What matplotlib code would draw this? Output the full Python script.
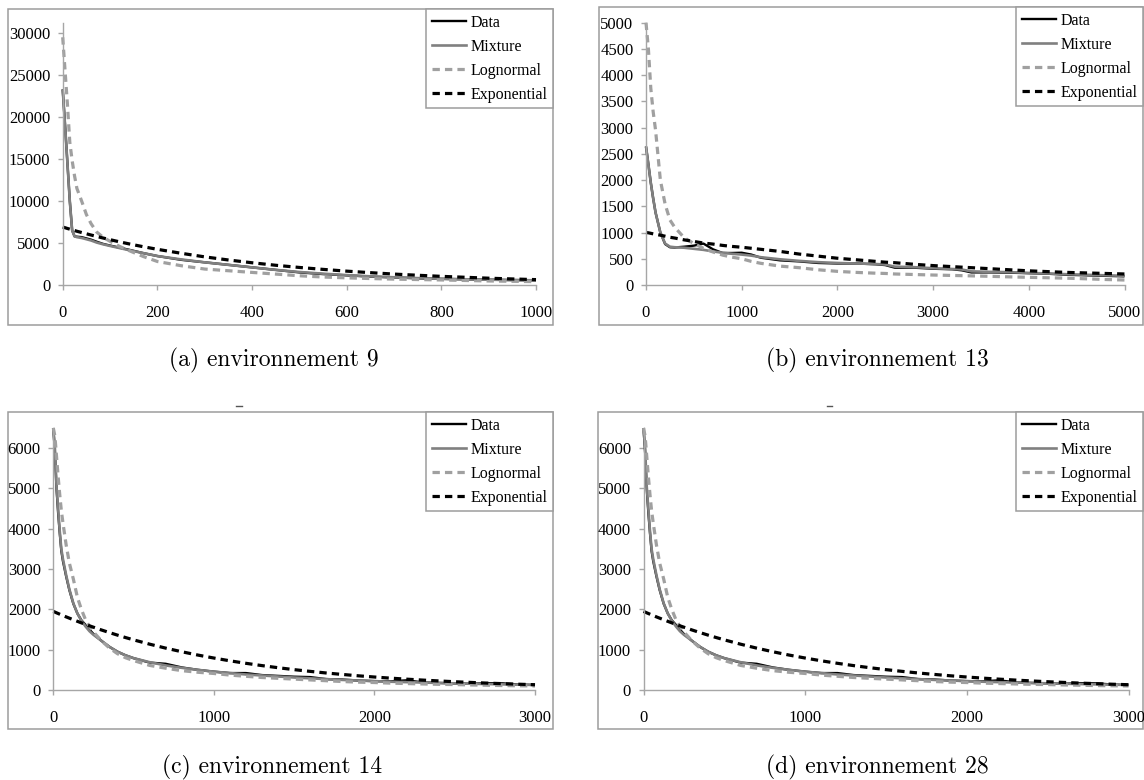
import matplotlib
matplotlib.use("Agg")
import matplotlib.pyplot as plt
from matplotlib.lines import Line2D
from matplotlib.patches import Rectangle

# ---------------------------------------------------------------- data
labels = ["Data", "Mixture", "Lognormal", "Exponential"]

# environnement 9
env9_x = [0, 5, 10, 15, 20, 25, 30, 40, 50, 60, 72, 85, 100, 120, 140, 170, 200,
          250, 300, 350, 400, 450, 500, 550, 600, 650, 700, 750, 800, 850, 900,
          950, 1000]
env9_data = [23300, 19000, 14500, 10000, 6500, 5800, 5750, 5700, 5550, 5400, 5150,
             4900, 4700, 4450, 4200, 3800, 3450, 3000, 2700, 2400, 2100, 1800, 1500,
             1300, 1150, 1000, 900, 800, 730, 680, 630, 590, 560]
env9_mix = [23300, 19000, 14500, 10000, 6500, 5800, 5700, 5600, 5450, 5300, 5050,
            4850, 4650, 4400, 4150, 3800, 3450, 3050, 2700, 2400, 2100, 1800, 1550,
            1350, 1180, 1030, 920, 820, 740, 680, 630, 590, 560]
env9_logn = [29500, 25500, 21500, 17000, 14800, 13000, 11500, 10000, 8400, 7300, 6300,
             5700, 5200, 4600, 4100, 3400, 2800, 2300, 1900, 1700, 1500, 1300, 1100,
             950, 850, 770, 700, 650, 600, 540, 480, 440, 400]
env9_expo = [6900, 6820, 6730, 6650, 6570, 6490, 6400, 6250, 6100, 5950, 5780, 5600,
             5400, 5140, 4900, 4560, 4250, 3780, 3350, 2980, 2650, 2350, 2090, 1860,
             1650, 1470, 1300, 1160, 1030, 920, 810, 720, 640]

# environnement 13
env13_x = [0, 25, 50, 75, 100, 150, 200, 250, 300, 400, 500, 600, 700, 800, 900, 1000,
           1100, 1200, 1400, 1600, 1800, 2000, 2200, 2400, 2500, 2600, 2800, 3000,
           3200, 3300, 3400, 3600, 3800, 4000, 4200, 4400, 4600, 4800, 5000]
env13_data = [2640, 2300, 1950, 1650, 1380, 1000, 780, 720, 715, 730, 750, 790, 680,
              610, 610, 615, 580, 520, 470, 450, 420, 410, 410, 395, 380, 330, 330,
              310, 300, 280, 240, 240, 235, 225, 215, 195, 185, 175, 165]
env13_mix = [2640, 2300, 1950, 1650, 1380, 1000, 790, 730, 720, 710, 690, 670, 640,
             615, 595, 580, 560, 530, 490, 460, 435, 420, 410, 400, 390, 350, 340,
             320, 305, 295, 260, 250, 245, 230, 220, 205, 195, 185, 175]
env13_logn = [5000, 4500, 3750, 3300, 2950, 2000, 1540, 1240, 1100, 900, 790, 700, 630,
              570, 530, 500, 450, 413, 360, 330, 290, 260, 240, 225, 220, 210, 200,
              190, 182, 178, 174, 165, 155, 146, 138, 130, 118, 105, 95]
env13_expo = [1000, 995, 985, 975, 965, 950, 930, 910, 895, 860, 830, 800, 780, 755,
              735, 720, 700, 680, 640, 590, 550, 510, 480, 450, 435, 425, 395, 370,
              350, 340, 330, 310, 290, 270, 255, 240, 230, 220, 210]

# environnement 14 (environnement 28 gives the same curves)
env14_x = [0, 10, 20, 30, 40, 50, 60, 80, 100, 125, 150, 175, 200, 225, 250, 300, 350,
           400, 450, 500, 600, 700, 800, 900, 1000, 1100, 1200, 1300, 1400, 1500,
           1600, 1700, 1800, 1900, 2000, 2100, 2200, 2300, 2400, 2500, 2600, 2700,
           2800, 2900, 3000]
env14_data = [6500, 5900, 5000, 4400, 3900, 3450, 3200, 2820, 2480, 2140, 1900, 1730,
              1620, 1500, 1390, 1220, 1070, 950, 860, 790, 680, 650, 560, 500, 455,
              420, 420, 370, 350, 330, 320, 270, 260, 235, 220, 215, 240, 190, 175,
              165, 155, 170, 165, 135, 125]
env14_mix = [6500, 6000, 5050, 4500, 3950, 3500, 3250, 2850, 2500, 2150, 1900, 1720,
             1580, 1460, 1370, 1220, 1070, 950, 860, 790, 690, 610, 550, 500, 455, 420,
             385, 360, 335, 310, 290, 270, 250, 235, 220, 205, 195, 185, 175, 165, 155,
             148, 140, 132, 125]
env14_logn = [6500, 6300, 5800, 5300, 4850, 4450, 4150, 3600, 3150, 2750, 2300, 2000,
              1750, 1580, 1440, 1220, 1040, 900, 800, 730, 610, 540, 480, 440, 410, 370,
              340, 310, 290, 270, 250, 230, 210, 195, 185, 170, 160, 150, 140, 135, 125,
              118, 110, 105, 100]
env14_expo = [1950, 1933, 1915, 1898, 1881, 1864, 1847, 1814, 1782, 1743, 1704, 1666,
              1629, 1593, 1558, 1489, 1424, 1361, 1301, 1244, 1137, 1039, 949, 867, 793,
              724, 662, 605, 553, 505, 462, 422, 386, 352, 322, 294, 269, 246, 225, 205,
              188, 171, 157, 143, 131]

env28_x = list(env14_x)
env28_data = list(env14_data)
env28_mix = list(env14_mix)
env28_logn = list(env14_logn)
env28_expo = list(env14_expo)

captions = ["(a) environnement 9", "(b) environnement 13",
            "(c) environnement 14", "(d) environnement 28"]

# ---------------------------------------------------------------- figure
W, H = 1144, 780
fig = plt.figure(figsize=(W / 100, H / 100), dpi=100)
fig.patch.set_facecolor("white")

SERIF = "Liberation Serif"
GRID = "#a6a6a6"
BORDER = "#9c9c9c"

styles = [
    dict(color="black", lw=1.7, ls="-"),
    dict(color="#808080", lw=1.9, ls="-"),
    dict(color="#a0a0a0", lw=2.3, ls=(0, (2.3, 1.6))),
    dict(color="black", lw=2.3, ls=(0, (2.3, 1.6))),
]


def fx(px):
    return px / W


def fy(py):
    return 1 - py / H


def panel(box, axes_px, legend_px, xmax, xstep, ymax, ystep, series, caption, cap_xy):
    bl, bt, br, bb = box
    fig.add_artist(Rectangle((fx(bl), fy(bb)), (br - bl) / W, (bb - bt) / H,
                             transform=fig.transFigure, facecolor="none",
                             edgecolor=BORDER, lw=1.1))
    al, at, ar, ab = axes_px
    ax = fig.add_axes([fx(al), fy(ab), (ar - al) / W, (ab - at) / H])
    ax.patch.set_alpha(0)
    x = series[0]
    for ys, st in zip(series[1:], styles):
        ax.plot(x, ys, clip_on=False, solid_capstyle="butt",
                dash_capstyle="butt", **st)
    ax.set_xlim(0, xmax)
    ax.set_ylim(0, ymax)
    ax.set_xticks(range(0, xmax + 1, xstep))
    yt = list(range(0, int(ymax) + 1, ystep))
    ax.set_yticks(yt)
    for s in ("top", "right"):
        ax.spines[s].set_visible(False)
    for s in ("left", "bottom"):
        ax.spines[s].set_color(GRID)
        ax.spines[s].set_linewidth(1.0)
    ax.tick_params(axis="both", direction="out", length=3.5, width=1.0,
                   color=GRID, labelsize=12)
    ax.tick_params(axis="x", pad=11)
    ax.tick_params(axis="y", pad=5.5)
    for t in ax.get_xticklabels() + ax.get_yticklabels():
        t.set_fontfamily(SERIF)
    ax.set_zorder(1)

    handles = [Line2D([], [], **st) for st in styles]
    ll, lt = legend_px
    leg = fig.legend(handles, labels, loc="upper right",
                     bbox_to_anchor=(fx(ll), fy(lt)), borderaxespad=0,
                     frameon=True, fancybox=False, framealpha=1,
                     edgecolor=BORDER, prop=dict(family=SERIF, size=11.5),
                     handlelength=2.1, handletextpad=0.3, borderpad=0.35,
                     labelspacing=0.5)
    leg.get_frame().set_linewidth(1.1)
    leg.set_zorder(5)

    fig.text(fx(cap_xy[0]), fy(cap_xy[1]), caption, family="cmr10", size=17,
             ha="center", va="center")


panel((8, 9, 553, 325), (62.7, 23, 536, 285), (553, 9), 1000, 200, 31200, 5000,
      (env9_x, env9_data, env9_mix, env9_logn, env9_expo), captions[0], (274, 360))
panel((599, 7, 1143, 325), (646, 22.7, 1124.5, 285), (1143, 7), 5000, 1000, 5000, 500,
      (env13_x, env13_data, env13_mix, env13_logn, env13_expo), captions[1], (877, 360))
panel((8, 412, 553, 729), (53.3, 428, 535, 690), (553, 412), 3000, 1000, 6500, 1000,
      (env14_x, env14_data, env14_mix, env14_logn, env14_expo), captions[2], (272, 767))
panel((597.6, 412, 1143, 729), (643.5, 428, 1128.5, 690), (1143, 412), 3000, 1000,
      6500, 1000,
      (env28_x, env28_data, env28_mix, env28_logn, env28_expo), captions[3], (877, 767))

# small marks above the lower charts
for cx in (239, 829):
    fig.add_artist(Line2D([fx(cx - 2.5), fx(cx + 2.5)], [fy(406), fy(406)],
                          color="#555555", lw=1.0, transform=fig.transFigure))

fig.savefig("out.png", dpi=100, facecolor="white")
